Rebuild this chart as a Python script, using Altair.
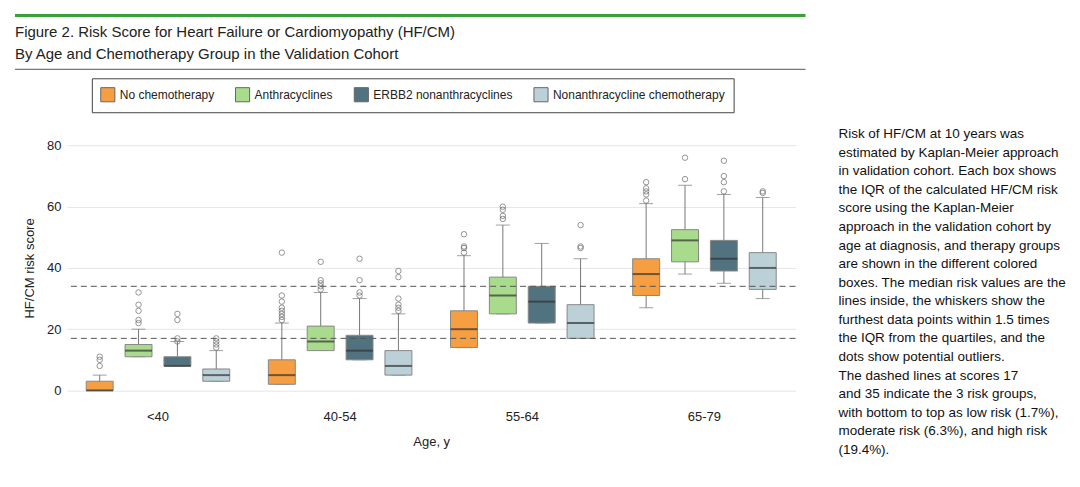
import altair as alt
import pandas as pd

ages = ["<40", "40-54", "55-64", "65-79"]
groups = ["No chemotherapy", "Anthracyclines", "ERBB2 nonanthracyclines", "Nonanthracycline chemotherapy"]
colors = ["#F59E42", "#A8DB8C", "#51727F", "#BCD0D8"]

# per age, per group: lower whisker, q1, median, q3, upper whisker
low = [[0, 11, 8, 3], [2, 13, 10, 5], [14, 25, 22, 17], [27, 38, 35, 30]]
q1 = [[0, 11, 8, 3], [2, 13, 10, 5], [14, 25, 22, 17], [31, 42, 39, 33]]
med = [[0, 13, 8, 5], [5, 16, 13, 8], [20, 31, 29, 22], [38, 49, 43, 40]]
q3 = [[3, 15, 11, 7], [10, 21, 18, 13], [26, 37, 34, 28], [43, 52.5, 49, 45]]
up = [[5, 20, 16, 13], [22, 32, 30, 25], [44, 54, 48, 43], [61, 67, 64, 63]]
outliers = [
    [[8, 10, 11], [22, 23, 26, 28, 32], [16, 17, 23, 25], [14, 15, 16, 17]],
    [[23, 24, 25, 26, 27, 29, 31, 45], [33, 34, 35, 36, 42], [31, 32, 36, 43], [26, 27, 28, 30, 37, 39]],
    [[45, 46.5, 47, 51], [56, 57, 59, 60], [], [46.5, 47, 54]],
    [[62, 64, 65, 66, 68], [69, 76], [65, 68, 70, 75], [64.5, 65]],
]
cutoffs = [17, 34]

note_lines = [
    "Risk of HF/CM at 10 years was",
    "estimated by Kaplan-Meier approach",
    "in validation cohort. Each box shows",
    "the IQR of the calculated HF/CM risk",
    "score using the Kaplan-Meier",
    "approach in the validation cohort by",
    "age at diagnosis, and therapy groups",
    "are shown in the different colored",
    "boxes. The median risk values are the",
    "lines inside, the whiskers show the",
    "furthest data points within 1.5 times",
    "the IQR from the quartiles, and the",
    "dots show potential outliers.",
    "The dashed lines at scores 17",
    "and 35 indicate the 3 risk groups,",
    "with bottom to top as low risk (1.7%),",
    "moderate risk (6.3%), and high risk",
    "(19.4%).",
]

rows, pts = [], []
for i, a in enumerate(ages):
    for j, g in enumerate(groups):
        rows.append(dict(age=a, group=g, low=low[i][j], q1=q1[i][j], med=med[i][j], q3=q3[i][j], up=up[i][j]))
        for v in outliers[i][j]:
            pts.append(dict(age=a, group=g, v=v))
stats = pd.DataFrame(rows)
outs = pd.DataFrame(pts)

F = "Liberation Sans"
W, H = 730, 270
ys = alt.Scale(domain=[-4, 84])
xs = alt.X("age:N", sort=ages, title="Age, y", scale=alt.Scale(paddingInner=0.2, paddingOuter=0.1),
           axis=alt.Axis(labelAngle=0, ticks=False, domain=False, labelFontSize=13, titleFontSize=13,
                         titleFontWeight="normal", labelPadding=8, titlePadding=12,
                         labelColor="#222", titleColor="#222"))
xo = alt.XOffset("group:N", sort=groups, scale=alt.Scale(paddingInner=0.25))
col = alt.Color("group:N", sort=groups, scale=alt.Scale(domain=groups, range=colors), title=None,
                legend=alt.Legend(orient="none", direction="horizontal", legendX=25, legendY=-55,
                                  strokeColor="#444", padding=8, symbolType="square", symbolSize=200,
                                  symbolStrokeColor="#666", symbolStrokeWidth=1, labelFontSize=12,
                                  labelFont=F, columnPadding=18, labelColor="#222", labelLimit=0))

yaxis = alt.Axis(values=[0, 20, 40, 60, 80], ticks=False, domain=False, gridColor="#e6e6e6",
                 labelFontSize=13, titleFontSize=13, titleFontWeight="normal", labelPadding=6,
                 titlePadding=10, labelColor="#222", titleColor="#222")

base = alt.Chart(stats)
whisk = base.mark_rule(color="#777").encode(x=xs, xOffset=xo, y=alt.Y("low:Q", scale=ys, title="HF/CM risk score", axis=yaxis), y2="up:Q")
caps_up = base.mark_tick(color="#777", size=14, thickness=1).encode(x=xs, xOffset=xo, y=alt.Y("up:Q", scale=ys))
caps_lo = base.mark_tick(color="#777", size=14, thickness=1).encode(x=xs, xOffset=xo, y=alt.Y("low:Q", scale=ys))
box = base.mark_bar(size=27, stroke="#888", strokeWidth=1).encode(
    x=xs, xOffset=xo, y=alt.Y("q1:Q", scale=ys), y2="q3:Q", color=col)
median = base.mark_tick(color="#333", size=27, thickness=2).encode(x=xs, xOffset=xo, y=alt.Y("med:Q", scale=ys))
dots = alt.Chart(outs).mark_point(shape="circle", filled=False, color="#666", size=30, strokeWidth=1).encode(
    x=xs, xOffset=xo, y=alt.Y("v:Q", scale=ys))
cut = alt.Chart(pd.DataFrame({"c": cutoffs})).mark_rule(strokeDash=[6, 4], color="#555").encode(
    y=alt.Y("c:Q", scale=ys))

notes_df = pd.DataFrame({"t": note_lines, "yy": [-6 + 18.6 * i for i in range(len(note_lines))]})
notes = alt.Chart(notes_df).mark_text(
    align="left", baseline="top", font=F, fontSize=13.5, color="#111").encode(
    x=alt.value(773), y=alt.value(0), yOffset=alt.YOffset("yy:Q", scale=None), text="t:N")

head = alt.Chart(pd.DataFrame({"t": ["Figure 2. Risk Score for Heart Failure or Cardiomyopathy (HF/CM)",
                                     "By Age and Chemotherapy Group in the Validation Cohort"],
                               "yy": [-108, -86]})).mark_text(
    align="left", baseline="top", font=F, fontSize=15, color="#222").encode(
    x=alt.value(-52), y=alt.value(0), yOffset=alt.YOffset("yy:Q", scale=None), text="t:N")
green = alt.Chart(pd.DataFrame({"a": [0]})).mark_rule(color="#3aa03a", strokeWidth=3).encode(
    x=alt.value(-52), x2=alt.value(740), y=alt.value(-118))
grey = alt.Chart(pd.DataFrame({"a": [0]})).mark_rule(color="#555", strokeWidth=1).encode(
    x=alt.value(-52), x2=alt.value(740), y=alt.value(-64))

chart = alt.layer(whisk, caps_up, caps_lo, box, median, dots, cut, notes, head, green, grey).properties(
    width=W, height=H).configure_view(stroke=None).configure_axis(labelFont=F, titleFont=F)

chart.save("out.html", embed_options={"renderer": "svg", "actions": False})
